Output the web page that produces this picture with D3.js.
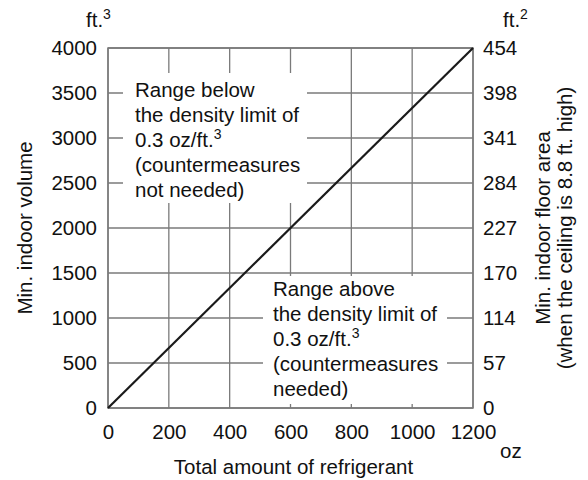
<!DOCTYPE html>
<html>
<head>
<meta charset="utf-8">
<script src="https://cdn.jsdelivr.net/npm/d3@7.9.0/dist/d3.min.js"></script>
<style>
  body { margin: 0; background: #fff; }
  svg { display: block; font-family: "Liberation Sans", Arial, Helvetica, sans-serif; }
</style>
</head>
<body>
<div id="chart"></div>
<script>
// data
const refrigerantTicks = [0, 200, 400, 600, 800, 1000, 1200];
const volumeTicks = [0, 500, 1000, 1500, 2000, 2500, 3000, 3500, 4000];
const areaTicks = [0, 57, 114, 170, 227, 284, 341, 398, 454];
const limitRefrigerant = [0, 1200];
const limitVolume = [0, 4000];

const belowText = ['Range below', 'the density limit of', '0.3 oz/ft.|3', '(countermeasures', 'not needed)'];
const aboveText = ['Range above', 'the density limit of', '0.3 oz/ft.|3', '(countermeasures', 'needed)'];

const width = 588, height = 480;
const margin = { top: 48, right: 115, bottom: 72, left: 108 };
const gridColor = '#7a7a7a';
const fs = 20.5;

const svg = d3.select('#chart').append('svg')
  .attr('width', width).attr('height', height);

const xScale = d3.scaleLinear()
  .domain([0, 1200])
  .range([margin.left, width - margin.right]);

const yScale = d3.scaleLinear()
  .domain([0, 4000])
  .range([height - margin.bottom, margin.top]);

// second axis shares the same pixel positions as the volume ticks
const yArea = d3.scaleOrdinal()
  .domain(areaTicks)
  .range(volumeTicks.map(v => yScale(v)));

// gridlines
const grid = svg.append('g').attr('stroke', gridColor).attr('stroke-width', 1.3);
grid.selectAll('.vx').data(refrigerantTicks).join('line')
  .attr('x1', d => xScale(d)).attr('x2', d => xScale(d))
  .attr('y1', yScale(0)).attr('y2', yScale(4000));
grid.selectAll('.hy').data(volumeTicks).join('line')
  .attr('x1', xScale(0)).attr('x2', xScale(1200))
  .attr('y1', d => yScale(d)).attr('y2', d => yScale(d));

// white boxes behind the notes
svg.append('rect').attr('x', 123).attr('y', 73).attr('width', 184).attr('height', 130).attr('fill', '#fff');
svg.append('rect').attr('x', 263).attr('y', 276).attr('width', 184).attr('height', 128).attr('fill', '#fff');

// plot frame
svg.append('rect')
  .attr('x', xScale(0)).attr('y', yScale(4000))
  .attr('width', xScale(1200) - xScale(0)).attr('height', yScale(0) - yScale(4000))
  .attr('fill', 'none').attr('stroke', gridColor).attr('stroke-width', 1.5);

// density limit line
const line = d3.line().x(d => xScale(d[0])).y(d => yScale(d[1]));
svg.append('path')
  .datum(limitRefrigerant.map((r, i) => [r, limitVolume[i]]))
  .attr('d', line)
  .attr('fill', 'none').attr('stroke', '#1a1a1a').attr('stroke-width', 2.2);

// axes
function styleAxis(g) {
  g.select('.domain').remove();
  g.selectAll('.tick line').remove();
  g.selectAll('text').attr('font-size', fs).attr('fill', '#111')
    .attr('font-family', '"Liberation Sans", Arial, sans-serif');
}

svg.append('g')
  .attr('transform', `translate(0,${yScale(0) + 10})`)
  .call(d3.axisBottom(xScale).tickValues(refrigerantTicks).tickFormat(d3.format('d')).tickSize(0).tickPadding(6))
  .call(styleAxis);

svg.append('g')
  .attr('transform', `translate(${xScale(0) - 11},0)`)
  .call(d3.axisLeft(yScale).tickValues(volumeTicks).tickFormat(d3.format('d')).tickSize(0).tickPadding(0))
  .call(styleAxis);

svg.append('g')
  .attr('transform', `translate(${xScale(1200) + 10},0)`)
  .call(d3.axisRight(yArea).tickSize(0).tickPadding(0))
  .call(styleAxis);

// unit labels
function unit(x, y, base, sup, anchor) {
  const t = svg.append('text').attr('x', x).attr('y', y).attr('font-size', fs).attr('fill', '#111')
    .attr('text-anchor', anchor || 'start');
  t.append('tspan').text(base);
  if (sup) t.append('tspan').attr('font-size', 14).attr('dy', -8).text(sup);
}
unit(86, 27, 'ft.', '3');
unit(503, 27, 'ft.', '2');
unit(500, 458, 'oz');

// axis titles
svg.append('text')
  .attr('x', (xScale(0) + xScale(1200)) / 2 + 3).attr('y', 474)
  .attr('text-anchor', 'middle').attr('font-size', fs).attr('fill', '#111')
  .text('Total amount of refrigerant');

svg.append('text')
  .attr('transform', `translate(32,${(yScale(0) + yScale(4000)) / 2}) rotate(-90)`)
  .attr('text-anchor', 'middle').attr('font-size', fs).attr('fill', '#111')
  .text('Min. indoor volume');

svg.append('text')
  .attr('transform', `translate(550,${(yScale(0) + yScale(4000)) / 2}) rotate(-90)`)
  .attr('text-anchor', 'middle').attr('font-size', fs).attr('fill', '#111')
  .text('Min. indoor floor area');

svg.append('text')
  .attr('transform', `translate(572,${(yScale(0) + yScale(4000)) / 2}) rotate(-90)`)
  .attr('text-anchor', 'middle').attr('font-size', fs).attr('fill', '#111')
  .text('(when the ceiling is 8.8 ft. high)');

// notes
function note(lines, x, y0) {
  const t = svg.append('text').attr('font-size', fs).attr('fill', '#111');
  lines.forEach((s, i) => {
    const [base, sup] = s.split('|');
    t.append('tspan').attr('x', x).attr('y', y0 + i * 25).text(base);
    if (sup) t.append('tspan').attr('font-size', 14).attr('dy', -8).text(sup);
  });
}
note(belowText, 135, 97);
note(aboveText, 273, 296);
</script>
</body>
</html>
